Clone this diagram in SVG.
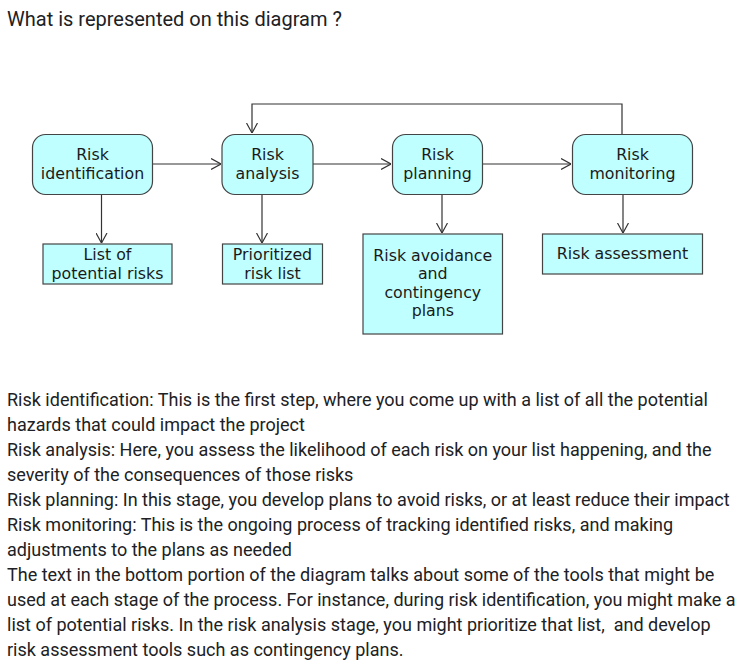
<svg xmlns="http://www.w3.org/2000/svg" width="751" height="671" viewBox="0 0 751 671">
<style>
.bg{fill:#ffffff}
.q{font-family:Roboto,"Liberation Sans",sans-serif;font-size:18px;fill:#202124}
.t{font-family:Roboto,"Liberation Sans",sans-serif;font-size:20px;fill:#202124}
.n{font-family:"DejaVu Sans",sans-serif;font-size:15.8px;fill:#1a1a1a;text-anchor:middle}
.rr{fill:#c0ffff;stroke:#444;stroke-width:1.2}
.bx{fill:#c0ffff;stroke:#444;stroke-width:1.2}
.c{fill:none;stroke:#333;stroke-width:1.2}
</style>
<defs>
<marker id="ah" viewBox="0 0 10 12" refX="10" refY="6" markerWidth="10" markerHeight="12" markerUnits="userSpaceOnUse" orient="auto">
<path d="M0,0.5 L10,6 L0,11.5" fill="none" stroke="#333" stroke-width="1.2"/>
</marker>
</defs>
<rect class="bg" x="0" y="0" width="751" height="671"/>
<text class="t" x="7" y="26">What is represented on this diagram ?</text>

<g id="connectors">
<line class="c" x1="153" y1="164" x2="221" y2="164" marker-end="url(#ah)"/>
<line class="c" x1="313" y1="164" x2="391" y2="164" marker-end="url(#ah)"/>
<line class="c" x1="483" y1="164" x2="571" y2="164" marker-end="url(#ah)"/>
<polyline class="c" points="622,134 622,104 252,104 252,133" marker-end="url(#ah)"/>
<line class="c" x1="101.5" y1="194" x2="101.5" y2="243" marker-end="url(#ah)"/>
<line class="c" x1="262" y1="194" x2="262" y2="243" marker-end="url(#ah)"/>
<line class="c" x1="442" y1="194" x2="442" y2="233" marker-end="url(#ah)"/>
<line class="c" x1="623" y1="194" x2="623" y2="233" marker-end="url(#ah)"/>
</g>

<g id="risk-identification">
<rect class="rr" x="32.5" y="134.5" width="120" height="60" rx="13"/>
<text class="n" x="92.5" y="160">Risk</text>
<text class="n" x="92.5" y="178.5">identification</text>
</g>
<g id="risk-analysis">
<rect class="rr" x="222" y="134.5" width="91" height="60" rx="13"/>
<text class="n" x="267.5" y="160">Risk</text>
<text class="n" x="267.5" y="178.5">analysis</text>
</g>
<g id="risk-planning">
<rect class="rr" x="392.5" y="134.5" width="90" height="60" rx="13"/>
<text class="n" x="437.5" y="160">Risk</text>
<text class="n" x="437.5" y="178.5">planning</text>
</g>
<g id="risk-monitoring">
<rect class="rr" x="572.5" y="134.5" width="120" height="60" rx="13"/>
<text class="n" x="632.5" y="160">Risk</text>
<text class="n" x="632.5" y="178.5">monitoring</text>
</g>

<g id="list-potential-risks">
<rect class="bx" x="43" y="244" width="129" height="40"/>
<text class="n" x="107.5" y="260">List of</text>
<text class="n" x="107.5" y="278.5">potential risks</text>
</g>
<g id="prioritized-risk-list">
<rect class="bx" x="222.5" y="244" width="100" height="40"/>
<text class="n" x="272.5" y="260">Prioritized</text>
<text class="n" x="272.5" y="278.5">risk list</text>
</g>
<g id="risk-avoidance">
<rect class="bx" x="363" y="234" width="139.5" height="100"/>
<text class="n" x="432.8" y="260.5">Risk avoidance</text>
<text class="n" x="432.8" y="279">and</text>
<text class="n" x="432.8" y="297.5">contingency</text>
<text class="n" x="432.8" y="316">plans</text>
</g>
<g id="risk-assessment">
<rect class="bx" x="542.5" y="234" width="160" height="40"/>
<text class="n" x="622.5" y="258.5">Risk assessment</text>
</g>

<g id="description">
<text class="q" x="7" y="406">Risk identification: This is the first step, where you come up with a list of all the potential</text>
<text class="q" x="7" y="431">hazards that could impact the project</text>
<text class="q" x="7" y="456">Risk analysis: Here, you assess the likelihood of each risk on your list happening, and the</text>
<text class="q" x="7" y="481">severity of the consequences of those risks</text>
<text class="q" x="7" y="506">Risk planning: In this stage, you develop plans to avoid risks, or at least reduce their impact</text>
<text class="q" x="7" y="530.5">Risk monitoring: This is the ongoing process of tracking identified risks, and making</text>
<text class="q" x="7" y="555.5">adjustments to the plans as needed</text>
<text class="q" x="7" y="580.5">The text in the bottom portion of the diagram talks about some of the tools that might be</text>
<text class="q" x="7" y="605.5">used at each stage of the process. For instance, during risk identification, you might make a</text>
<text class="q" x="7" y="630.5" style="white-space:pre">list of potential risks. In the risk analysis stage, you might prioritize that list,  and develop</text>
<text class="q" x="7" y="655.5">risk assessment tools such as contingency plans.</text>
</g>
</svg>
